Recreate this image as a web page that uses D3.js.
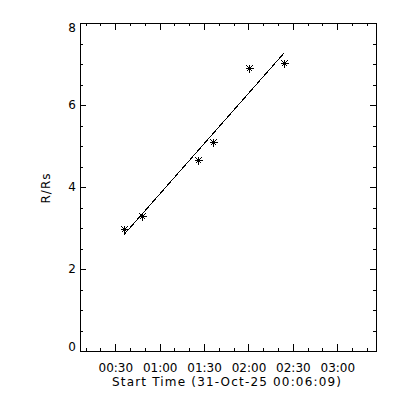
<!DOCTYPE html>
<html>
<head>
<meta charset="utf-8">
<script src="https://cdn.jsdelivr.net/npm/d3@7"></script>
<style>
  body { margin: 0; background: #fff; }
  text { font-family: "DejaVu Sans", sans-serif; font-size: 12px; fill: #000; }
</style>
</head>
<body>
<div id="chart"></div>
<script>
// time range of the plot (UT)
var day = '2025-10-31T';
var startTime = '00:06:09';
var endTime = '03:26:09';
// observation times and heights (R/Rs)
var times = ['00:36:00', '00:48:05', '01:26:05', '01:36:05', '02:00:05', '02:24:05'];
var heights = [2.97, 3.30, 4.65, 5.09, 6.90, 7.03];
// axis ticks
var xTickLabels = ['00:30', '01:00', '01:30', '02:00', '02:30', '03:00'];
var yTicks = [0, 2, 4, 6, 8];
var yMinor = [0.5, 1, 1.5, 2.5, 3, 3.5, 4.5, 5, 5.5, 6.5, 7, 7.5];

var width = 400, height = 400;
var margin = { left: 80, right: 24, top: 23, bottom: 49 };
var innerW = width - margin.left - margin.right;
var innerH = height - margin.top - margin.bottom;

var parse = function(s) { return new Date(day + s + 'Z'); };

var data = times.map(function(t, i) { return { t: parse(t), r: heights[i] }; });

var x = d3.scaleUtc()
  .domain([parse(startTime), parse(endTime)])
  .range([margin.left, margin.left + innerW]);
var y = d3.scaleLinear()
  .domain([0, 8])
  .range([margin.top + innerH, margin.top]);

var xMajor = xTickLabels.map(function(s) { return parse(s + ':00'); });
var xMinor = d3.utcMinute.every(10).range(x.domain()[0], x.domain()[1]);

var svg = d3.select('#chart').append('svg')
  .attr('width', width)
  .attr('height', height)
  .style('background', '#fff');

var fmt = d3.utcFormat('%H:%M');
var tlenX = 6.6, tlenY = 5.9;

function clean(g) {
  g.select('.domain').remove();
  g.selectAll('line').attr('stroke', '#000').attr('shape-rendering', 'crispEdges');
}

// bottom axis
svg.append('g')
  .attr('transform', 'translate(0,' + (margin.top + innerH) + ')')
  .call(d3.axisBottom(x).tickValues(xMinor).tickFormat('').tickSize(-tlenX / 2))
  .call(clean);
var xb = svg.append('g')
  .attr('transform', 'translate(0,' + (margin.top + innerH) + ')')
  .call(d3.axisBottom(x).tickValues(xMajor).tickFormat(fmt).tickSize(-tlenX).tickPadding(12))
  .call(clean);
xb.selectAll('text').attr('font-size', null).attr('font-family', null);

// top axis
svg.append('g')
  .attr('transform', 'translate(0,' + margin.top + ')')
  .call(d3.axisTop(x).tickValues(xMinor).tickFormat('').tickSize(-tlenX / 2))
  .call(clean);
svg.append('g')
  .attr('transform', 'translate(0,' + margin.top + ')')
  .call(d3.axisTop(x).tickValues(xMajor).tickFormat('').tickSize(-tlenX))
  .call(clean);

// left axis
svg.append('g')
  .attr('transform', 'translate(' + margin.left + ',0)')
  .call(d3.axisLeft(y).tickValues(yMinor).tickFormat('').tickSize(-tlenY / 2))
  .call(clean);
var yl = svg.append('g')
  .attr('transform', 'translate(' + margin.left + ',0)')
  .call(d3.axisLeft(y).tickValues(yTicks).tickFormat(d3.format('d')).tickSize(-tlenY).tickPadding(4))
  .call(clean);
yl.selectAll('text').attr('font-size', null).attr('font-family', null)
  .attr('y', function(d) {
    // end labels are kept inside the axis range
    if (d === y.domain()[1]) return 5;
    if (d === y.domain()[0]) return -4;
    return 0;
  });

// right axis
svg.append('g')
  .attr('transform', 'translate(' + (margin.left + innerW) + ',0)')
  .call(d3.axisRight(y).tickValues(yMinor).tickFormat('').tickSize(-tlenY / 2))
  .call(clean);
svg.append('g')
  .attr('transform', 'translate(' + (margin.left + innerW) + ',0)')
  .call(d3.axisRight(y).tickValues(yTicks).tickFormat('').tickSize(-tlenY))
  .call(clean);

// box
svg.append('rect')
  .attr('x', margin.left + 0.5)
  .attr('y', margin.top + 0.5)
  .attr('width', innerW)
  .attr('height', innerH)
  .attr('fill', 'none')
  .attr('stroke', '#000')
  .attr('shape-rendering', 'crispEdges');

// axis titles
svg.append('text')
  .attr('x', 112)
  .attr('y', 386)
  .attr('textLength', 229)
  .attr('lengthAdjust', 'spacing')
  .text('Start Time (31-Oct-' + d3.utcFormat('%y')(parse(startTime)) + ' ' + startTime + ')');

svg.append('text')
  .attr('transform', 'translate(50,188) rotate(-90)')
  .attr('text-anchor', 'middle')
  .attr('letter-spacing', '1px')
  .text('R/Rs');

// linear fit of height vs time
var t0 = data[0].t.getTime();
var mins = data.map(function(d) { return (d.t.getTime() - t0) / 60000; });
var mt = d3.mean(mins), mr = d3.mean(heights);
var sxy = d3.sum(mins, function(m, i) { return (m - mt) * (heights[i] - mr); });
var sxx = d3.sum(mins, function(m) { return (m - mt) * (m - mt); });
var slope = sxy / sxx;
var fit = [mins[0], mins[mins.length - 1]].map(function(m) {
  return { t: new Date(t0 + m * 60000), r: mr + slope * (m - mt) };
});

svg.append('path')
  .datum(fit)
  .attr('fill', 'none')
  .attr('stroke', '#000')
  .attr('stroke-width', 1)
  .attr('shape-rendering', 'crispEdges')
  .attr('d', d3.line()
    .x(function(d) { return x(d.t); })
    .y(function(d) { return y(d.r); }));

// asterisks
svg.selectAll('.star')
  .data(data)
  .enter()
  .append('path')
  .attr('class', 'star')
  .attr('transform', function(d) {
    return 'translate(' + (Math.round(x(d.t)) + 0.5) + ',' + (Math.round(y(d.r)) + 0.5) + ')';
  })
  .attr('d', 'M-4,0H4M0,-4V4M-3,-3L3,3M-3,3L3,-3')
  .attr('fill', 'none')
  .attr('stroke', '#000')
  .attr('stroke-width', 1)
  .attr('shape-rendering', 'crispEdges');
</script>
</body>
</html>
